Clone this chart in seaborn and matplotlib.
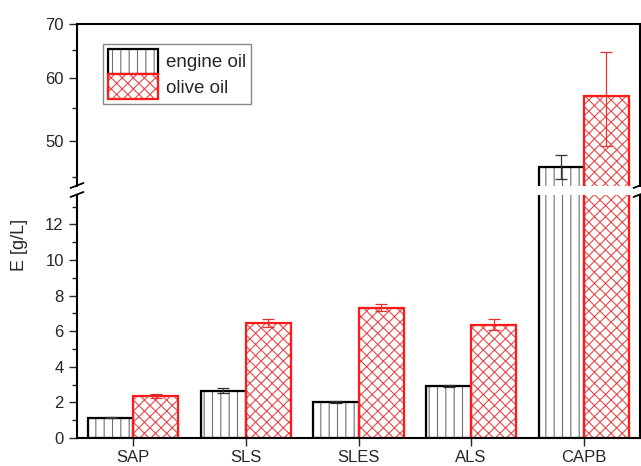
import matplotlib
matplotlib.use("Agg")
import matplotlib.pyplot as plt
import pandas as pd
import seaborn as sns
from matplotlib.patches import Patch, Rectangle
from matplotlib.lines import Line2D
from matplotlib.legend_handler import HandlerTuple
from matplotlib.ticker import FixedLocator, MultipleLocator, NullFormatter, FuncFormatter

# Emulsifying capacity E [g/L] per surfactant and oil
surfactants = ["SAP", "SLS", "SLES", "ALS", "CAPB"]
oils = ["engine oil", "olive oil"]
engine_oil = [1.14, 2.65, 2.02, 2.91, 46.4]
engine_err = [0.04, 0.15, 0.04, 0.04, 1.6]
olive_oil = [2.35, 6.46, 7.32, 6.37, 56.9]
olive_err = [0.1, 0.2, 0.2, 0.3, 7.6]

sns.set_style("ticks")
plt.rcParams["font.family"] = ["Liberation Sans", "DejaVu Sans"]
plt.rcParams["hatch.linewidth"] = 0.8
plt.rcParams["axes.linewidth"] = 1.5

df = pd.DataFrame({
    "surfactant": surfactants * 2,
    "oil": [oils[0]] * len(surfactants) + [oils[1]] * len(surfactants),
    "E": engine_oil + olive_oil,
})

W, H = 641, 466
fig = plt.figure(figsize=(W / 100, H / 100), dpi=100)

x_left, x_right = 77, 640
top_y0, top_y1 = 24, 186      # upper (broken) panel, pixels from top
bot_y0, bot_y1 = 195, 438     # lower panel

ax_top = fig.add_axes([x_left / W, 1 - top_y1 / H, (x_right - x_left) / W, (top_y1 - top_y0) / H])
ax_bot = fig.add_axes([x_left / W, 1 - bot_y1 / H, (x_right - x_left) / W, (bot_y1 - bot_y0) / H])

styles = {
    "engine oil": dict(edge="black", hatchc="#707070", hatch="||", ecol="#333333"),
    "olive oil": dict(edge="#ff1a1a", hatchc="#e84a4a", hatch="xxx", ecol="#e03030"),
}
errs = {"engine oil": engine_err, "olive oil": olive_err}
vals = {"engine oil": engine_oil, "olive oil": olive_oil}

for ax in (ax_top, ax_bot):
    sns.barplot(data=df, x="surfactant", y="E", hue="oil", order=surfactants,
                hue_order=oils, palette=["white", "white"], width=0.8,
                errorbar=None, legend=False, saturation=1, ax=ax)

ax_top.set_yscale("log")

for ax in (ax_top, ax_bot):
    for cont, oil in zip(ax.containers, oils):
        st = styles[oil]
        xs = []
        for bar in cont:
            bar.set_hatch(st["hatch"])
            bar.set_edgecolor(st["hatchc"])
            bar.set_linewidth(0.8)
            ax.add_patch(Rectangle(bar.get_xy(), bar.get_width(), bar.get_height(),
                                   fill=False, edgecolor=st["edge"], lw=1.6,
                                   zorder=bar.get_zorder() + 0.2))
            xs.append(bar.get_x() + bar.get_width() / 2)
        ax.errorbar(xs, vals[oil], yerr=errs[oil], fmt="none", ecolor=st["ecol"],
                    elinewidth=0.9, capsize=4.5, capthick=0.9, zorder=5)
    ax.set_xlim(-0.5, len(surfactants) - 0.5)
    ax.set_xlabel("")
    ax.set_ylabel("")
    for s in ax.spines.values():
        s.set_color("black")
        s.set_linewidth(1.5)

# lower panel: linear 0 - 13.6
ax_bot.set_ylim(0, 13.65)
ax_bot.yaxis.set_major_locator(MultipleLocator(2))
ax_bot.yaxis.set_minor_locator(MultipleLocator(1))
ax_bot.spines["top"].set_visible(False)
ax_bot.tick_params(axis="y", which="major", direction="out", length=6, width=1,
                   labelsize=12, left=True, right=False)
ax_bot.tick_params(axis="y", which="minor", direction="out", length=3.5, width=1,
                   left=True, right=False)
ax_bot.tick_params(axis="x", which="major", direction="out", length=6, width=1,
                   labelsize=12, bottom=True, top=False, pad=3)
ax_bot.tick_params(axis="x", which="minor", bottom=False)

# upper panel: log 43.9 - 70
ax_top.set_ylim(43.9, 70)
ax_top.yaxis.set_major_locator(FixedLocator([50, 60, 70]))
ax_top.yaxis.set_major_formatter(FuncFormatter(lambda v, p: f"{v:g}"))
ax_top.yaxis.set_minor_locator(FixedLocator([45, 55, 65]))
ax_top.yaxis.set_minor_formatter(NullFormatter())
ax_top.spines["bottom"].set_visible(False)
ax_top.tick_params(axis="y", which="major", direction="out", length=6, width=1,
                   labelsize=12, left=True, right=False)
ax_top.tick_params(axis="y", which="minor", direction="out", length=3.5, width=1,
                   left=True, right=False)
ax_top.tick_params(axis="x", which="both", bottom=False, top=False, labelbottom=False)

# axis break marks
def slash(xc, yc):
    fig.add_artist(Line2D([(xc - 6.5) / W, (xc + 6.5) / W],
                          [1 - (yc + 2.5) / H, 1 - (yc - 2.5) / H],
                          transform=fig.transFigure, color="black", lw=1.3))

for xc in (x_left, x_right):
    slash(xc, top_y1 - 0.5)
    slash(xc, bot_y0 - 0.5)

fig.text(20 / W, 1 - 245 / H, "E [g/L]", rotation=90, ha="center", va="center",
         fontsize=13)

# legend
handles = []
for oil in oils:
    st = styles[oil]
    handles.append((Patch(facecolor="white", edgecolor=st["hatchc"], hatch=st["hatch"], lw=0.8),
                    Patch(facecolor="none", edgecolor=st["edge"], lw=1.6)))
leg = ax_top.legend(handles, oils, handler_map={tuple: HandlerTuple(ndivide=1, pad=0)},
                    loc="upper left", bbox_to_anchor=(0.046, 0.877), borderaxespad=0,
                    fontsize=13.5, frameon=True, fancybox=False, framealpha=1,
                    edgecolor="#888888", handlelength=2.7, handleheight=1.7,
                    labelspacing=0.0, handletextpad=0.4, borderpad=0.25)
leg.get_frame().set_linewidth(1.0)

fig.savefig("out.png", dpi=100)
